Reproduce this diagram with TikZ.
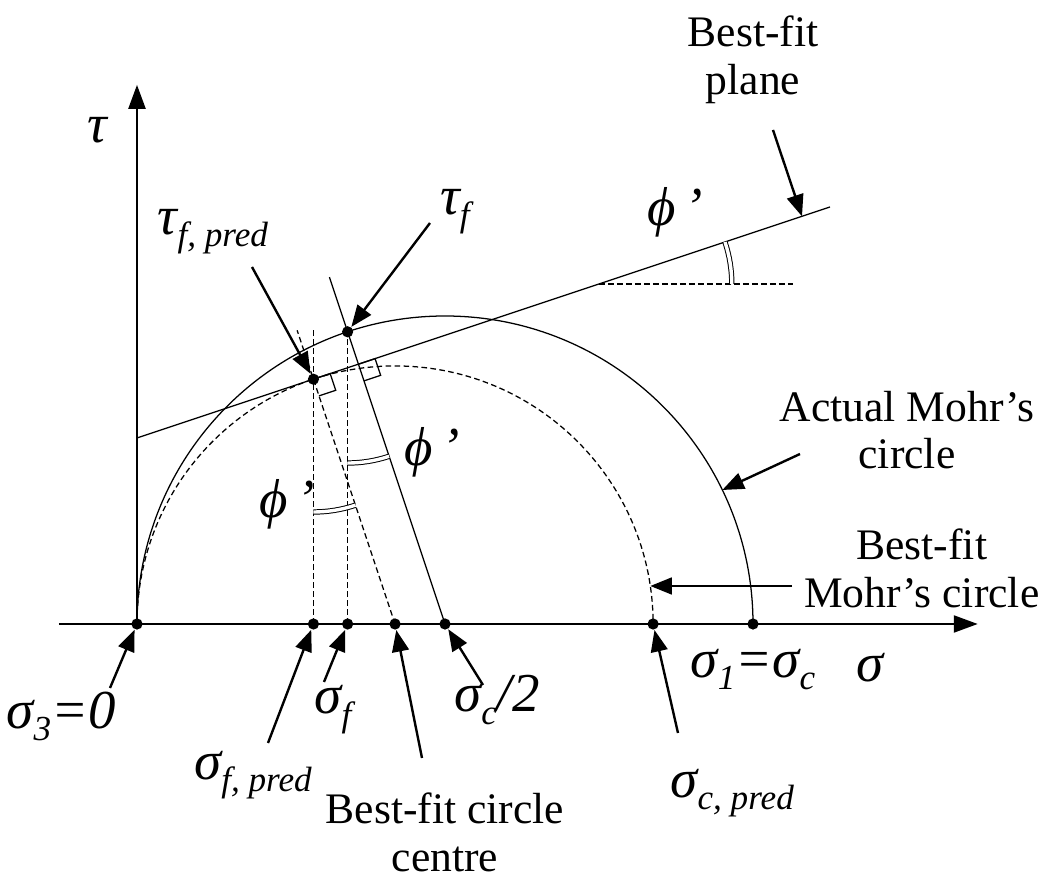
\documentclass[tikz,border=0pt]{standalone}
\usepackage{fontspec}
\setmainfont{Liberation Serif}
\usetikzlibrary{arrows.meta,calc,positioning}
% lowered subscript inside a Greek label
\newcommand{\sbs}[1]{\raisebox{-0.22em}{\fontsize{12.5}{14}\selectfont #1}}

\begin{document}
\begin{tikzpicture}[
  ax/.style={line width=1pt, -{Triangle[length=3mm, width=2.1mm]}},
  ptr/.style={line width=0.85pt, -{Triangle[length=2.7mm, width=2.1mm]}},
  crv/.style={line width=0.45pt},
  dsh/.style={line width=0.45pt, dash pattern=on 2pt off 1.2pt},
  dbl/.style={double, double distance=1.2pt, line width=0.35pt},
  dot/.style={circle, fill=black, inner sep=0pt, minimum size=4pt},
  txt/.style={font=\fontsize{15.5}{17}\selectfont, align=center, inner sep=1pt},
  glab/.style={font=\fontsize{19.5}{22}\selectfont\itshape, inner sep=1pt},
]
\useasboundingbox (-1.7125,-3.225) rectangle (11.3,7.8);
\pgfmathsetmacro{\ph}{atan(1/3)}
\pgfmathsetmacro{\pint}{2.325}
\pgfmathsetmacro{\rb}{\pint*cos(\ph)/(1-sin(\ph))}
\pgfmathsetmacro{\ra}{3.85}
\pgfmathsetmacro{\dd}{\ra*sin(\ph)+\pint*cos(\ph)}

% ---------- axes
\coordinate (O) at (0,0);
\coordinate (xl) at (-0.975,0);
\coordinate (xr) at (10.51,0);
\coordinate (yt) at (0,6.74);
\draw[ax] (xl) -- (xr);
\draw[ax] (O) -- (yt);

% ---------- actual and best-fit circles
\coordinate (Ca) at (\ra,0);
\coordinate (Cb) at (\rb,0);
\draw[crv] (O) arc[start angle=180, end angle=0, radius=\ra];
\draw[dsh] (O) arc[start angle=180, end angle=0, radius=\rb];

% ---------- best-fit plane
\coordinate (pl0) at (0,\pint);
\coordinate (pl1) at (8.6625,{8.6625/3+\pint});
\draw[crv] (pl0) -- (pl1);

\coordinate (Tp) at ($(Cb)+(90+\ph:\rb)$);
\coordinate (Tf) at ($(Ca)+(90+\ph:\ra)$);
\coordinate (Ft) at ($(Ca)+(90+\ph:\dd)$);
\coordinate (ra1) at ($(Ca)+(90+\ph:4.57)$);
\coordinate (rb1) at ($(Cb)+(90+\ph:3.87)$);
\draw[crv] (Ca) -- (ra1);
\draw[dsh] (Cb) -- (rb1);
\draw[dsh] (Tp |- O) -- (Tp |- 0,3.67);
\draw[dsh] (Tf |- O) -- (Tf |- 0,3.67);

% right angles
\draw[crv] (Tp) -- ++(\ph:0.22) -- ++(\ph-90:0.22) -- ++(\ph+180:0.22);
\draw[crv] (Ft) -- ++(\ph:0.22) -- ++(\ph-90:0.22) -- ++(\ph+180:0.22);

% ---------- angle marks
\draw[dbl] ($(Tp)+(-90:1.66)$) arc[start angle=-90, end angle={-90+\ph}, radius=1.66];
\draw[dbl] ($(Tf)+(-90:1.64)$) arc[start angle=-90, end angle={-90+\ph}, radius=1.64];
\coordinate (V) at (5.775,4.25);
\coordinate (hz) at (8.2,4.25);
\draw[dsh] (V) -- (hz);
\draw[dbl] ($(V)+(0:1.66)$) arc[start angle=0, end angle=\ph, radius=1.66];

% ---------- points
\node[dot] (s3) at (O) {};
\node[dot] (sfp) at (Tp |- O) {};
\node[dot] (sf) at (Tf |- O) {};
\node[dot] (cb) at (Cb) {};
\node[dot] (sc2) at (Ca) {};
\node[dot] (scp) at ({2*\rb},0) {};
\node[dot] (s1) at ({2*\ra},0) {};
\node[dot] (tfp) at (Tp) {};
\node[dot] (tf) at (Tf) {};

% ---------- labels
\node[glab] (ltau) at (-0.5,6.175) {τ};
\node[glab] (lsig) at (9.16,-0.55) {σ};
\node[glab] (ls1) at (7.7,-0.575) {σ\sbs{1}=σ\sbs{c}};
\node[glab] (phi1) at (6.725,5.15) {ϕ\,’};
\node[glab] (phi2) at (3.69,2.15) {ϕ\,’};
\node[glab] (phi3) at (1.875,1.49) {ϕ\,’};

\node[glab] (ltfp) at (0.95,4.90) {τ\sbs{f, pred}};
\node[glab] (ltf) at (3.975,5.15) {τ\sbs{f}};
\node[glab] (ls3) at (-0.95,-1.16) {σ\sbs{3}=0};
\node[glab] (lsfp) at (1.45,-1.89) {σ\sbs{f, pred}};
\node[glab] (lsf) at (2.45,-1.07) {σ\sbs{f}};
\node[glab] (lsc2) at (4.5,-0.95) {σ\sbs{c}/2};
\node[glab] (lscp) at (7.44,-2.11) {σ\sbs{c, pred}};

\node[txt] (lplane) at (7.7,7.05) {Best-fit\\plane};
\node[txt] (lact) at (9.625,2.425) {Actual Mohr’s\\circle};
\node[txt] (lbest) at (9.81,0.70) {Best-fit\\Mohr’s circle};
\node[txt] (lcen) at (3.85,-2.6) {Best-fit circle\\centre};

% ---------- pointers
\coordinate (aplane) at (7.95,6.175);
\coordinate (onpl) at (8.3125,{8.3125/3+\pint});
\coordinate (atfp) at (1.4375,4.4625);
\coordinate (atf) at (3.6625,5.0125);
\coordinate (aact) at (8.2875,2.125);
\coordinate (onact) at ({\ra+sqrt(\ra*\ra-1.675*1.675)},1.675);
\coordinate (abest) at (8.1875,0.475);
\coordinate (onbest) at ({\rb+sqrt(\rb*\rb-0.475*0.475)},0.475);
\coordinate (ascp) at (6.7625,-1.3625);
\coordinate (asc2) at (4.325,-0.7625);
\coordinate (acen) at (3.5625,-1.675);
\coordinate (asf) at (2.3375,-0.725);
\coordinate (asfp) at (1.6375,-1.4875);
\coordinate (as3) at (-0.3375,-0.8);

\draw[ptr] (aplane) -- (onpl);
\draw[ptr] (atfp) -- (tfp);
\draw[ptr] (atf) -- (tf);
\draw[ptr] (aact) -- (onact);
\draw[ptr] (abest) -- (onbest);
\draw[ptr] (ascp) -- (scp);
\draw[ptr] (asc2) -- (sc2);
\draw[ptr] (acen) -- (cb);
\draw[ptr] (asf) -- (sf);
\draw[ptr] (asfp) -- (sfp);
\draw[ptr] (as3) -- (s3);
\end{tikzpicture}
\end{document}
